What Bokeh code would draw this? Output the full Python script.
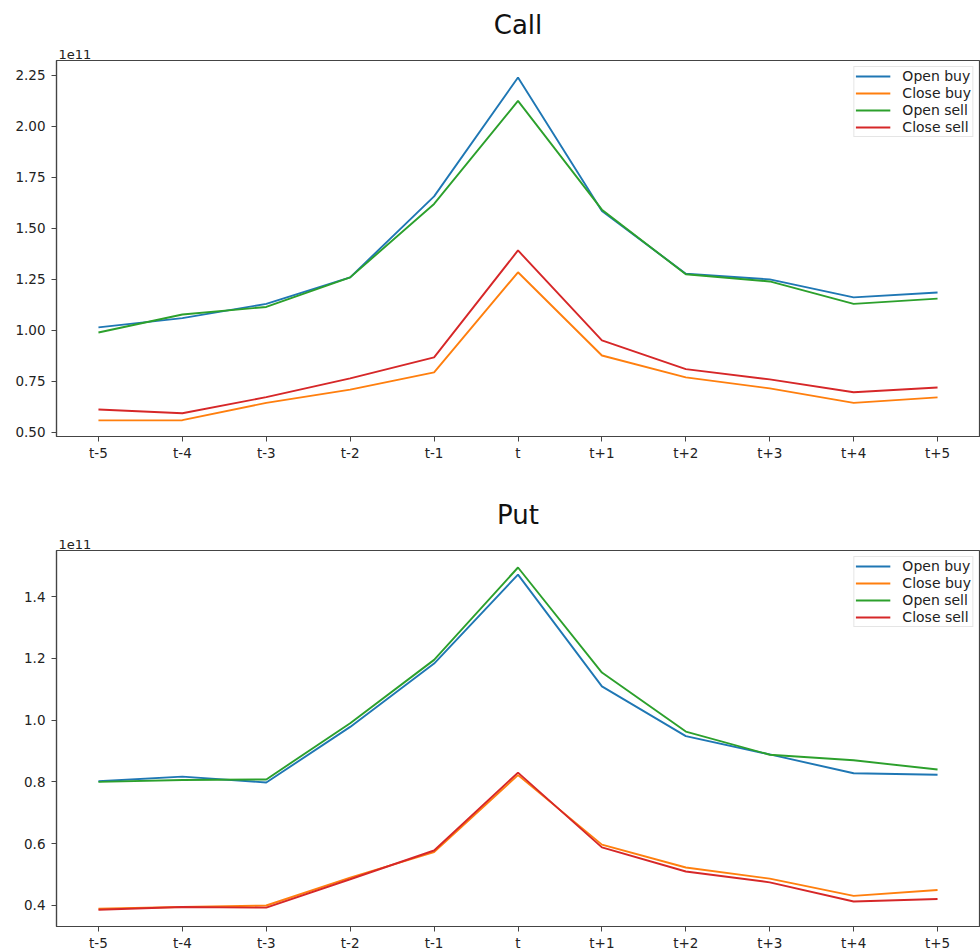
from bokeh.plotting import figure
from bokeh.layouts import column
from bokeh.models import FactorRange, Range1d, FixedTicker, NumeralTickFormatter, Legend, LegendItem, Title
from bokeh.embed import file_html
from bokeh.resources import INLINE

# Event-time categories
periods = ["t-5", "t-4", "t-3", "t-2", "t-1", "t", "t+1", "t+2", "t+3", "t+4", "t+5"]

# Values in units of 1e11
call_open_buy = [1.015, 1.06, 1.13, 1.26, 1.657, 2.24, 1.585, 1.278, 1.25, 1.162, 1.186]
call_close_buy = [0.559, 0.56, 0.645, 0.71, 0.794, 1.285, 0.877, 0.77, 0.716, 0.645, 0.672]
call_open_sell = [0.99, 1.078, 1.115, 1.26, 1.62, 2.125, 1.592, 1.275, 1.24, 1.13, 1.156]
call_close_sell = [0.612, 0.594, 0.673, 0.765, 0.868, 1.392, 0.951, 0.81, 0.76, 0.697, 0.72]

put_open_buy = [0.802, 0.817, 0.798, 0.978, 1.183, 1.471, 1.109, 0.948, 0.889, 0.828, 0.823]
put_close_buy = [0.39, 0.395, 0.40, 0.49, 0.573, 0.822, 0.597, 0.523, 0.487, 0.431, 0.45]
put_open_sell = [0.80, 0.806, 0.808, 0.99, 1.195, 1.494, 1.154, 0.963, 0.888, 0.87, 0.84]
put_close_sell = [0.386, 0.395, 0.393, 0.485, 0.578, 0.83, 0.588, 0.51, 0.475, 0.413, 0.421]

series_names = ["Open buy", "Close buy", "Open sell", "Close sell"]
colors = ["#1f77b4", "#ff7f0e", "#2ca02c", "#d62728"]

call_ticks = [0.50, 0.75, 1.00, 1.25, 1.50, 1.75, 2.00, 2.25]
put_ticks = [0.4, 0.6, 0.8, 1.0, 1.2, 1.4]
scale_label = "1e11"

FONT = "DejaVu Sans"
AX = "#444444"


def make_fig(title, data, yr, ticks, fmt, top, bottom):
    p = figure(x_range=FactorRange(factors=periods), y_range=Range1d(*yr),
               frame_width=923, frame_height=376,
               min_border_left=56, min_border_right=1,
               min_border_top=top, min_border_bottom=bottom,
               output_backend="svg", toolbar_location=None)
    # scale label just above the frame (closest panel), then main title
    p.add_layout(Title(text=scale_label, align="left", offset=2, standoff=3,
                       text_font=FONT, text_font_size="13px", text_font_style="normal",
                       text_color="#222222", text_line_height=0.9), "above")
    p.add_layout(Title(text=title, align="center", standoff=14,
                       text_font=FONT, text_font_size="26px", text_font_style="normal",
                       text_color="#111111", text_line_height=0.85), "above")
    p.xgrid.visible = False
    p.ygrid.visible = False
    p.outline_line_color = AX
    p.outline_line_width = 1.2
    p.outline_line_alpha = 1.0
    for ax in (p.xaxis[0], p.yaxis[0]):
        ax.axis_line_color = AX
        ax.axis_line_width = 1.2
        ax.major_tick_line_color = AX
        ax.major_tick_out = 5
        ax.major_tick_in = 0
        ax.minor_tick_line_color = None
        ax.major_label_text_font = FONT
        ax.major_label_text_font_size = "13.5px"
        ax.major_label_text_color = "#222222"
    p.xaxis[0].major_label_standoff = 3
    p.yaxis[0].major_label_standoff = 6
    p.yaxis[0].ticker = FixedTicker(ticks=ticks)
    p.yaxis[0].formatter = NumeralTickFormatter(format=fmt)

    items = []
    for name, ys, c in zip(series_names, data, colors):
        r = p.line(x=periods, y=ys, line_color=c, line_width=1.9)
        items.append(LegendItem(label=name, renderers=[r]))
    leg = Legend(items=items, location="top_right")
    leg.label_text_font = FONT
    leg.label_text_font_size = "14px"
    leg.label_text_color = "#222222"
    leg.glyph_width = 35
    leg.glyph_height = 16
    leg.label_height = 16
    leg.label_standoff = 12
    leg.spacing = 1
    leg.padding = 1
    leg.margin = 6
    leg.border_line_color = "#cccccc"
    leg.border_line_width = 1
    leg.background_fill_alpha = 0.9
    p.add_layout(leg)
    return p


p1 = make_fig("Call", [call_open_buy, call_close_buy, call_open_sell, call_close_sell],
              (0.48, 2.323), call_ticks, "0.00", 60, 52)
p2 = make_fig("Put", [put_open_buy, put_close_buy, put_open_sell, put_close_sell],
              (0.332, 1.549), put_ticks, "0.0", 62, 20)

layout = column(p1, p2, spacing=0)
open("out.html", "w").write(file_html(layout, INLINE))
